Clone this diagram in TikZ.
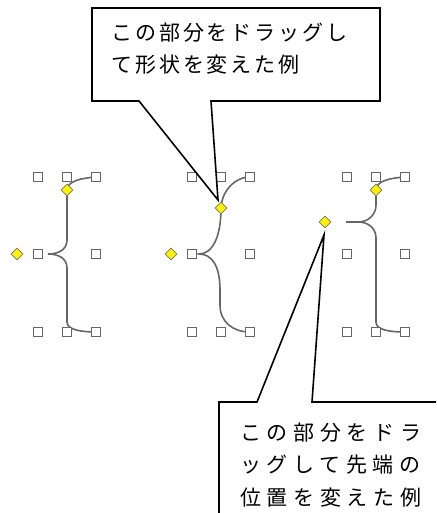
\documentclass[tikz,border=0pt]{standalone}
\usepackage{fontspec}
\newfontfamily\jpa[LetterSpace=14]{Noto Sans CJK JP}
\newfontfamily\jpb[LetterSpace=27]{Noto Sans CJK JP}
\usetikzlibrary{shapes.geometric}
\tikzset{
  handle/.style={draw=black!60, fill=white, line width=1.2pt, minimum size=8.5pt, inner sep=0pt},
  knob/.style={diamond, draw=black!55, fill=yellow, line width=0.8pt, minimum size=12pt, inner sep=0pt},
  brace/.style={draw=black!60, line width=1.6pt},
  callout/.style={draw=black, line width=1.6pt, line join=miter}
}

\begin{document}
\begin{tikzpicture}[x=1pt,y=-1pt]
  \useasboundingbox (0,0) rectangle (436,513);
  \clip (0,0) rectangle (436,513);
  % handle positions
  \foreach \g/\x in {1/38,2/192,3/347} {
    \coordinate (\g tl) at (\x,177);
    \coordinate (\g tm) at (\x+29,177);
    \coordinate (\g tr) at (\x+58,177);
    \coordinate (\g ml) at (\x,254);
    \coordinate (\g mr) at (\x+58,254);
    \coordinate (\g bl) at (\x,332);
    \coordinate (\g bm) at (\x+29,332);
    \coordinate (\g br) at (\x+58,332);
  }
  \coordinate (1p) at (48,254);
  \coordinate (2p) at (199,254);
  \coordinate (3p) at (358,222);
  \coordinate (3q) at (346,222);

  % braces
  \draw [brace] (1tr) .. controls (82,178) and (67,181) .. (67,190)
    -- (67,240) .. controls (67,250) and (58,254) .. (1p)
    .. controls (58,254) and (67,258) .. (67,268)
    -- (67,322) .. controls (67,330) and (82,332) .. (1br);
  \draw [brace] (2tr) .. controls (233,177) and (221,194) .. (221,208)
    .. controls (221,238) and (212,254) .. (2p)
    .. controls (212,254) and (220,266) .. (220,290)
    -- (220,305) .. controls (220,322) and (233,332) .. (2br);
  \draw [brace] (3tr) .. controls (390,178) and (376,181) .. (376,190)
    -- (376,205) .. controls (376,215) and (368,222) .. (3p) -- (3q);
  \draw [brace] (3p) .. controls (368,222) and (376,228) .. (376,238)
    -- (376,322) .. controls (376,330) and (390,332) .. (3br);

  % handles
  \foreach \g in {1,2,3}
    \foreach \h in {tl,tm,tr,ml,mr,bl,bm,br}
      \node [handle] (\g\h h) at (\g\h) {};

  % yellow knobs
  \node [knob] (1k) at (67,190) {};
  \node [knob] (1j) at (17,254) {};
  \node [knob] (2k) at (221,208) {};
  \node [knob] (2j) at (171,254) {};
  \node [knob] (3k) at (376,190) {};
  \node [knob] (3t) at (325,222) {};

  % callouts
  \coordinate (tipA) at (218,200);
  \coordinate (tipB) at (324,235);
  \draw [callout] (211,101) -- (tipA) -- (139,101) -- (92,101)
    -- (92,8) -- (380,8) -- (380,101) -- cycle;
  \draw [callout] (219,520) -- (219,402) -- (257,402) -- (tipB)
    -- (312,402) -- (440,402);
  \node [anchor=base west, align=left, inner sep=0pt,
    font=\jpa\fontsize{21}{32}\selectfont] (capA) at (111,73)
    {この部分をドラッグし\\て形状を変えた例};
  \node [anchor=base west, align=left, inner sep=0pt,
    font=\jpb\fontsize{21}{32.5}\selectfont] (capB) at (240,505)
    {この部分をドラ\\ッグして先端の\\位置を変えた例};
\end{tikzpicture}
\end{document}
